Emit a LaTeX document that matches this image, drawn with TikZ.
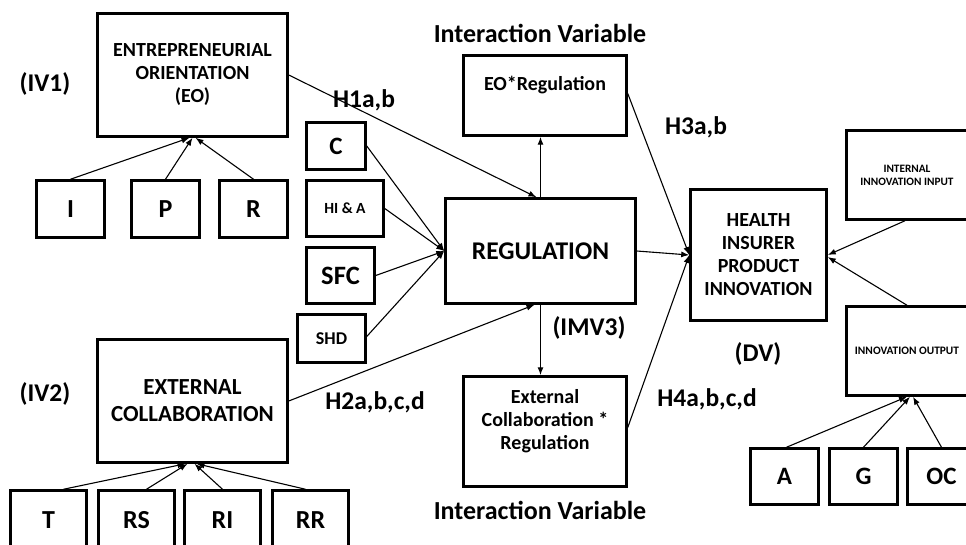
\documentclass[tikz,border=0pt]{standalone}
\usepackage{fontspec}
\setmainfont{Carlito}
\usetikzlibrary{arrows.meta}

\begin{document}
\begin{tikzpicture}[x=1pt,y=-1pt,>={Latex[length=8pt,width=6pt]},
  box/.style={draw,line width=2.5pt,align=center,inner sep=0pt},
  link/.style={line width=1.1pt},
  tag/.style={font=\fontsize{25.5}{30}\selectfont\bfseries}]
  \clip (0,0) rectangle (966,545);
  % independent variables
  \node[box,minimum width=190,minimum height=123,font=\fontsize{20}{23}\selectfont\bfseries] (EO) at (192.5,75) {ENTREPRENEURIAL\\ORIENTATION\\(EO)};
  \node[box,minimum width=190,minimum height=123,font=\fontsize{23}{27}\selectfont\bfseries] (EC) at (192.5,401) {EXTERNAL\\COLLABORATION};
  \node[tag] (iv1) at (45,84) {(IV1)};
  \node[tag] (iv2) at (45,394) {(IV2)};
  % indicators of EO
  \node[box,minimum width=68,minimum height=57,font=\fontsize{26}{30}\selectfont\bfseries] (I) at (70.5,209) {I};
  \node[box,minimum width=68,minimum height=57,font=\fontsize{26}{30}\selectfont\bfseries] (P) at (165.5,209) {P};
  \node[box,minimum width=68,minimum height=57,font=\fontsize{26}{30}\selectfont\bfseries] (R) at (253.5,209) {R};
  \draw[link,->] (I.north) -- ([xshift=-3]EO.south);
  \draw[link,->] (P.north) -- (EO.south);
  \draw[link,->] (R.north) -- ([xshift=3]EO.south);
  % indicators of EC
  \node[box,minimum width=76,minimum height=59,font=\fontsize{26}{30}\selectfont\bfseries] (T) at (48.5,520) {T};
  \node[box,minimum width=76,minimum height=59,font=\fontsize{26}{30}\selectfont\bfseries] (RS) at (136.5,520) {RS};
  \node[box,minimum width=76,minimum height=59,font=\fontsize{26}{30}\selectfont\bfseries] (RI) at (222.5,520) {RI};
  \node[box,minimum width=76,minimum height=59,font=\fontsize{26}{30}\selectfont\bfseries] (RR) at (310.5,520) {RR};
  \draw[link,->] ([xshift=15]T.north) -- ([xshift=-7]EC.south);
  \draw[link,->] ([xshift=10]RS.north) -- ([xshift=-5]EC.south);
  \draw[link,->] (RI.north) -- ([xshift=2]EC.south);
  \draw[link,->] ([xshift=-5]RR.north) -- ([xshift=4]EC.south);
  % moderator and its indicators
  \node[box,minimum width=190,minimum height=105,font=\fontsize{25.5}{30}\selectfont\bfseries] (REG) at (540.5,251) {REGULATION};
  \node[box,minimum width=59,minimum height=47,font=\fontsize{25}{29}\selectfont\bfseries] (C) at (336,146) {C};
  \node[box,minimum width=77,minimum height=56,font=\fontsize{15.5}{18}\selectfont\bfseries] (HIA) at (345,208.5) {HI \& A};
  \node[box,minimum width=68,minimum height=56,font=\fontsize{26.5}{30}\selectfont\bfseries] (SFC) at (340.5,275.5) {SFC};
  \node[box,minimum width=68,minimum height=48,font=\fontsize{18}{21}\selectfont\bfseries] (SHD) at (331.5,338.5) {SHD};
  \draw[link,->] (C.east) -- (REG.west);
  \draw[link,->] (HIA.east) -- (REG.west);
  \draw[link,->] (SFC.east) -- (REG.west);
  \draw[link,->] ([yshift=2]SHD.east) -- (REG.west);
  \node[tag] (imv3) at (589,328) {(IMV3)};
  % hypotheses H1 and H2
  \draw[link,->] (EO.east) -- ([xshift=-4]REG.north);
  \draw[link,->] (EC.east) -- ([xshift=-6]REG.south);
  \node[tag] (h1) at (364,100) {H1a,b};
  \node[tag] (h2) at (375,402) {H2a,b,c,d};
  % interaction variables
  \node[box,minimum width=163,minimum height=80,font=\fontsize{20}{23}\selectfont\bfseries,text height=14pt,text depth=24pt] (EOR) at (545,95.5) {EO*Regulation};
  \node[box,minimum width=163,minimum height=110,font=\fontsize{20}{23}\selectfont\bfseries] (ECR) at (545,431.5) {External\\Collaboration *\\Regulation\\[2pt]\mbox{}};
  \node[tag,font=\fontsize{26}{30}\selectfont\bfseries] (iv3) at (540,33) {Interaction Variable};
  \node[tag,font=\fontsize{26}{30}\selectfont\bfseries] (iv4) at (540,510) {Interaction Variable};
  \draw[link,->] (REG.north) -- (REG.north |- EOR.south);
  \draw[link,->] (REG.south) -- (REG.south |- ECR.north);
  % dependent variable
  \node[box,minimum width=136,minimum height=131,font=\fontsize{20}{23}\selectfont\bfseries] (HIPI) at (758.5,255) {HEALTH\\INSURER\\PRODUCT\\INNOVATION};
  \node[tag] (dv) at (758,354) {(DV)};
  \draw[link,->] ([yshift=2]EOR.east) -- (HIPI.west);
  \draw[link,->] (REG.east) -- (HIPI.west);
  \draw[link,->] ([yshift=4]ECR.east) -- (HIPI.west);
  \node[tag] (h3) at (696,127) {H3a,b};
  \node[tag] (h4) at (707,399) {H4a,b,c,d};
  % indicators of the DV
  \node[box,minimum width=121,minimum height=89,font=\fontsize{11.3}{13}\selectfont\bfseries] (III) at (907,175) {INTERNAL\\INNOVATION INPUT};
  \node[box,minimum width=121,minimum height=89,font=\fontsize{11.4}{13}\selectfont\bfseries] (IO) at (907,351) {INNOVATION OUTPUT};
  \draw[link,->] ([xshift=-2]III.south) -- (HIPI.east);
  \draw[link,->] (IO.north) -- ([yshift=-2]HIPI.east);
  \node[box,minimum width=68,minimum height=56,font=\fontsize{25}{29}\selectfont\bfseries] (A) at (784.5,476.5) {A};
  \node[box,minimum width=68,minimum height=56,font=\fontsize{25}{29}\selectfont\bfseries] (G) at (863.5,476.5) {G};
  \node[box,minimum width=68,minimum height=56,font=\fontsize{25}{29}\selectfont\bfseries] (OC) at (941.5,476.5) {OC};
  \draw[link,->] ([xshift=2]A.north) -- (IO.south);
  \draw[link,->] (G.north) -- ([xshift=3]IO.south);
  \draw[link,->] (OC.north) -- ([xshift=6]IO.south);
\end{tikzpicture}
\end{document}
